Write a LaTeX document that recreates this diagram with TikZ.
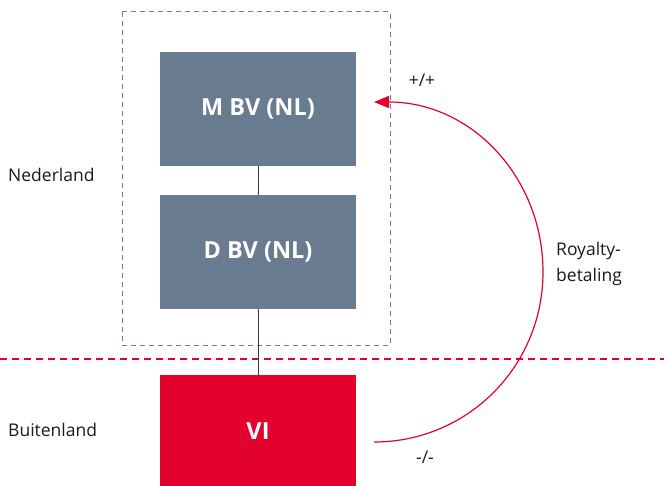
\documentclass[tikz,border=0pt]{standalone}
\usepackage{fontspec}
\setmainfont{Open Sans}
\usetikzlibrary{arrows.meta}
\definecolor{boxgray}{HTML}{687B8F}
\definecolor{dashgray}{HTML}{6B7F96}
\definecolor{rvored}{HTML}{E3022E}
\definecolor{linkgray}{HTML}{3A3A3A}
\definecolor{txt}{HTML}{1A1A1A}
\tikzset{
  entity/.style={minimum width=196pt, minimum height=114pt, inner sep=0pt, text=white, font=\fontsize{23.5}{28}\selectfont\bfseries},
  grayentity/.style={entity, fill=boxgray},
  redentity/.style={entity, fill=rvored},
  lbl/.style={text=txt, font=\fontsize{17.5}{26}\selectfont, inner sep=0pt},
  link/.style={linkgray, line width=1pt},
}
\begin{document}
\begin{tikzpicture}[x=1pt,y=-1pt]
\useasboundingbox (0,0) rectangle (664,486);
% dashed Nederland frame
\draw[dashgray, line width=1pt, dash pattern=on 5pt off 4pt] (122,12) rectangle (390,345);
% border line
\draw[rvored, line width=1.1pt, dash pattern=on 7pt off 5pt] (0,359) -- (664,359);
% boxes
\node[grayentity] (m) at (258,109) {M BV (NL)};
\node[grayentity] (d) at (258,252) {D BV (NL)};
\node[redentity, minimum height=112pt] (vi) at (258,431) {VI};
\draw[link] (m.south) -- (d.north);
\draw[link] (d.south) -- (vi.north);
% royalty arc
\coordinate (arcS) at (374,442);
\coordinate (arcE) at (374,102);
\draw[rvored, line width=1.2pt, -{Triangle[length=15pt,width=12pt]}]
  (arcS) .. controls (468,442) and (543,366) .. (543,272)
         .. controls (543,178) and (472,102) .. (arcE);
% labels
\node[lbl] (pp) at (422,80) {+/+};
\node[lbl] (mm) at (425,457) {-/-};
\node[lbl, align=left, anchor=west] (roy) at (556,264) {Royalty-\\betaling};
\node[lbl, anchor=west] (nl) at (8,175) {Nederland};
\node[lbl, anchor=west] (bl) at (8,430) {Buitenland};
\end{tikzpicture}
\end{document}
